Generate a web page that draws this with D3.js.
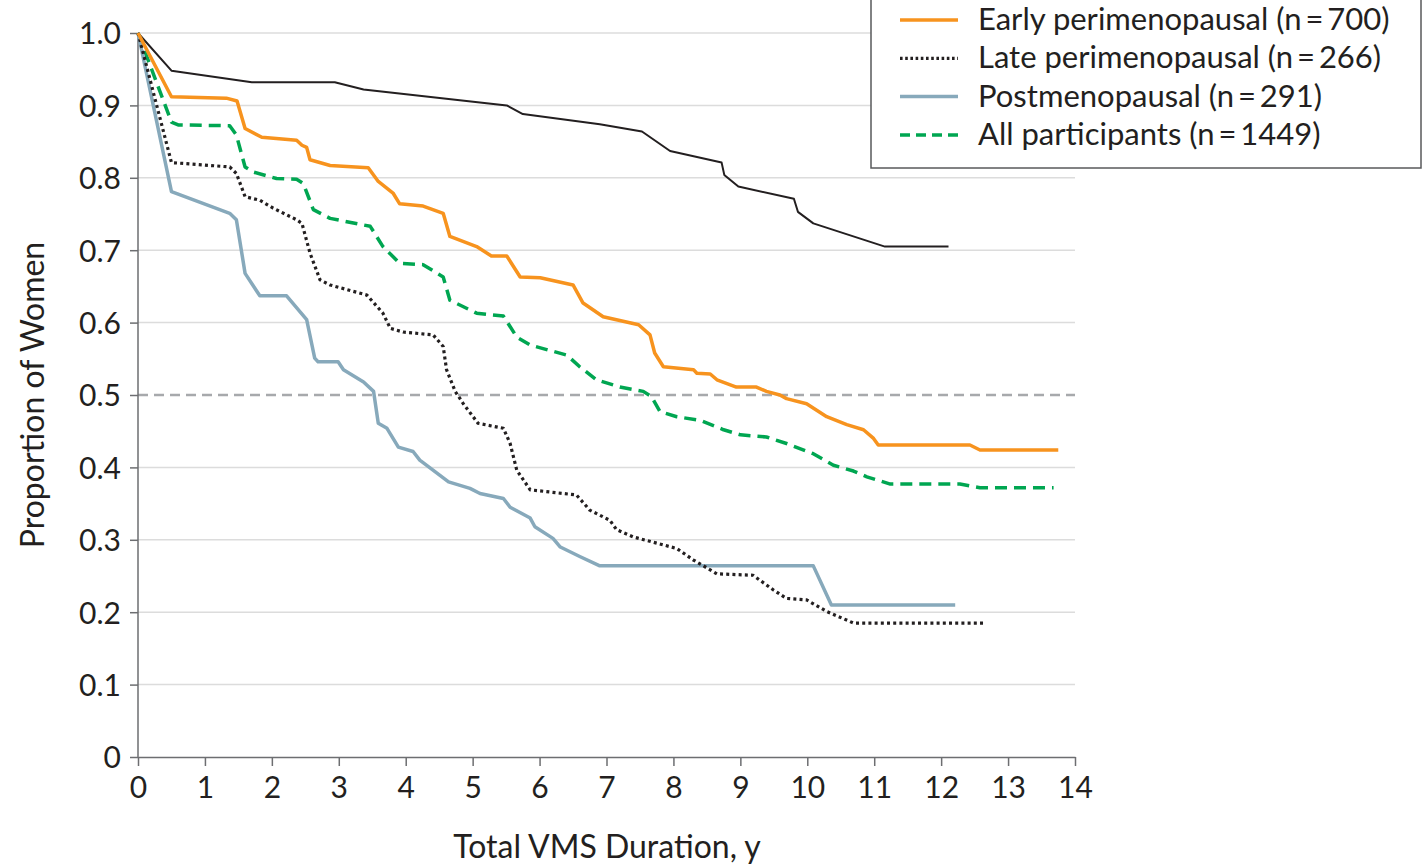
<!doctype html>
<html>
  <head>
    <script src="https://cdnjs.cloudflare.com/ajax/libs/d3/7.8.5/d3.min.js"></script>
    <style>
      body { margin: 0; background: #fff; }
      text { font-family: Lato, "Open Sans", sans-serif; fill: #231f20; }
      .grid line { stroke: #dcdcdc; stroke-width: 1.5; }
      .axis path, .axis line { stroke: #6d6e71; stroke-width: 1.5; }
    </style>
  </head>
  <body>
    <div id="chart"></div>
    <script>
      var xTicks = [0,1,2,3,4,5,6,7,8,9,10,11,12,13,14];
      var yTicks = [0,0.1,0.2,0.3,0.4,0.5,0.6,0.7,0.8,0.9,1.0];

      // [years, proportion]
      var premenopausal = [[0,1],[0.5,0.948],[1.7,0.932],[2.94,0.932],[3.37,0.922],[5.51,0.9],[5.75,0.888],
        [6.9,0.874],[7.53,0.864],[7.95,0.837],[8.72,0.821],[8.76,0.804],[8.97,0.788],[9.8,0.771],[9.86,0.753],
        [10.09,0.737],[11.16,0.705],[12.11,0.705]];
      var earlyPeri = [[0,1],[0.5,0.912],[1.32,0.91],[1.48,0.906],[1.6,0.868],[1.85,0.856],[2.37,0.852],[2.45,0.845],
        [2.52,0.842],[2.57,0.825],[2.87,0.817],[3.44,0.814],[3.59,0.795],[3.81,0.779],[3.91,0.764],[4.26,0.761],
        [4.56,0.751],[4.66,0.719],[5.06,0.705],[5.28,0.692],[5.51,0.692],[5.71,0.663],[6.01,0.662],[6.5,0.652],
        [6.65,0.627],[6.95,0.608],[7.48,0.597],[7.65,0.583],[7.72,0.558],[7.85,0.539],[8.3,0.535],[8.35,0.53],
        [8.55,0.529],[8.65,0.521],[8.94,0.511],[9.24,0.511],[9.39,0.505],[9.59,0.5],[9.69,0.495],[9.99,0.488],
        [10.29,0.47],[10.59,0.459],[10.84,0.452],[10.99,0.44],[11.06,0.431],[12.43,0.431],[12.58,0.424],[13.75,0.424]];
      var latePeri = [[0,1],[0.5,0.821],[1.37,0.815],[1.47,0.806],[1.6,0.774],[1.82,0.769],[2.02,0.758],[2.37,0.742],
        [2.45,0.737],[2.57,0.696],[2.72,0.659],[2.87,0.652],[3.42,0.638],[3.66,0.613],[3.77,0.592],[3.96,0.587],
        [4.41,0.583],[4.56,0.567],[4.61,0.535],[4.74,0.505],[4.86,0.488],[5.08,0.461],[5.46,0.454],[5.56,0.433],
        [5.66,0.396],[5.86,0.369],[6.55,0.362],[6.75,0.341],[7.05,0.327],[7.15,0.314],[7.4,0.304],[8.05,0.288],
        [8.3,0.272],[8.65,0.253],[9.19,0.251],[9.49,0.231],[9.69,0.219],[9.99,0.217],[10.29,0.201],[10.69,0.185],
        [12.63,0.185]];
      var postmeno = [[0,1],[0.5,0.781],[1.37,0.751],[1.47,0.742],[1.6,0.668],[1.82,0.637],[2.22,0.637],[2.52,0.604],
        [2.64,0.551],[2.69,0.546],[2.99,0.546],[3.07,0.535],[3.37,0.518],[3.52,0.505],[3.59,0.461],[3.72,0.454],
        [3.89,0.428],[4.11,0.422],[4.21,0.41],[4.64,0.38],[4.96,0.371],[5.11,0.364],[5.46,0.357],[5.56,0.345],
        [5.86,0.33],[5.93,0.318],[6.2,0.302],[6.31,0.29],[6.6,0.277],[6.9,0.264],[10.09,0.264],[10.36,0.21],[12.21,0.21]];
      var allParticipants = [[0,1],[0.5,0.877],[0.6,0.873],[1.37,0.872],[1.47,0.859],[1.6,0.815],[1.72,0.808],
        [2.07,0.799],[2.37,0.798],[2.47,0.792],[2.62,0.756],[2.87,0.744],[3.47,0.733],[3.66,0.705],[3.91,0.682],
        [4.26,0.68],[4.56,0.663],[4.66,0.631],[5.06,0.613],[5.46,0.609],[5.66,0.58],[5.86,0.569],[6.41,0.555],
        [6.6,0.539],[6.85,0.521],[7.2,0.511],[7.55,0.505],[7.67,0.498],[7.8,0.477],[8.05,0.47],[8.4,0.465],
        [8.75,0.452],[9.0,0.445],[9.39,0.442],[9.69,0.433],[10.09,0.419],[10.39,0.403],[10.69,0.395],[10.89,0.387],
        [11.24,0.377],[12.28,0.377],[12.58,0.372],[13.68,0.372]];

      var seriesNames = ["Premenopausal", "Early perimenopausal (n\u2009=\u2009700)", "Late perimenopausal (n\u2009=\u2009266)",
        "Postmenopausal (n\u2009=\u2009291)", "All participants (n\u2009=\u20091449)"];

      var series = [
        {name: seriesNames[0], values: premenopausal, color: "#231f20", width: 2, dash: null},
        {name: seriesNames[4], values: allParticipants, color: "#00a651", width: 3.5, dash: "12,7"},
        {name: seriesNames[3], values: postmeno, color: "#87a9bb", width: 3.5, dash: null},
        {name: seriesNames[2], values: latePeri, color: "#231f20", width: 3.2, dash: "3,3.2"},
        {name: seriesNames[1], values: earlyPeri, color: "#f7931e", width: 3.5, dash: null}
      ];
      var legendOrder = [seriesNames[1], seriesNames[2], seriesNames[3], seriesNames[4]];

      var W = 1423, H = 865;
      var margin = {left: 138, right: 348, top: 33, bottom: 108};

      var svg = d3.select("#chart").append("svg")
          .attr("width", W)
          .attr("height", H);

      var x = d3.scaleLinear().domain([0, 14]).range([margin.left, W - margin.right]);
      var y = d3.scaleLinear().domain([0, 1]).range([H - margin.bottom, margin.top]);

      // gridlines
      svg.append("g").attr("class", "grid")
        .selectAll("line")
        .data(yTicks.filter(d => d > 0 && d !== 0.5))
        .enter().append("line")
          .attr("x1", x(0)).attr("x2", x(14))
          .attr("y1", d => y(d)).attr("y2", d => y(d));

      svg.append("line")
          .attr("x1", x(0)).attr("x2", x(14))
          .attr("y1", y(0.5)).attr("y2", y(0.5))
          .attr("stroke", "#a7a9ac").attr("stroke-width", 2.5)
          .attr("stroke-dasharray", "10,6");

      // axes
      var xAxis = svg.append("g").attr("class", "axis")
          .attr("transform", "translate(0," + y(0) + ")")
          .call(d3.axisBottom(x).tickValues(xTicks).tickSize(9).tickSizeOuter(0).tickFormat(d3.format("d")));
      xAxis.selectAll("text").attr("font-size", 30).attr("dy", "0.95em");

      var yAxis = svg.append("g").attr("class", "axis")
          .attr("transform", "translate(" + x(0) + ",0)")
          .call(d3.axisLeft(y).tickValues(yTicks).tickSize(8).tickSizeOuter(0)
            .tickFormat(d => d === 0 ? "0" : d3.format(".1f")(d)));
      yAxis.selectAll("text").attr("font-size", 30).attr("x", -17).attr("dy", "0.36em");
      yAxis.selectAll("path.domain").attr("d", "M0," + y(0) + "V" + y(1));

      // lines
      var line = d3.line().x(d => x(d[0])).y(d => y(d[1]));
      svg.append("g").selectAll("path.series")
        .data(series)
        .enter().append("path")
          .attr("class", "series")
          .attr("d", d => line(d.values))
          .attr("fill", "none")
          .attr("stroke", d => d.color)
          .attr("stroke-width", d => d.width)
          .attr("stroke-dasharray", d => d.dash)
          .attr("stroke-linejoin", "round");

      // axis titles
      svg.append("text")
          .attr("x", 607).attr("y", 858)
          .attr("text-anchor", "middle")
          .attr("font-size", 32)
          .text("Total VMS Duration, y");

      svg.append("text")
          .attr("transform", "translate(44,395) rotate(-90)")
          .attr("text-anchor", "middle")
          .attr("font-size", 32)
          .text("Proportion of Women");

      // legend
      var lg = svg.append("g");
      lg.append("rect")
          .attr("x", 871).attr("y", -5)
          .attr("width", 550).attr("height", 173)
          .attr("fill", "#fff")
          .attr("stroke", "#58595b").attr("stroke-width", 1.5);

      var rows = lg.selectAll("g.row")
        .data(legendOrder.map(n => series.find(s => s.name === n)))
        .enter().append("g")
          .attr("class", "row")
          .attr("transform", (d, i) => "translate(900," + (20 + i * 38.3) + ")");
      rows.append("line")
          .attr("x1", 0).attr("x2", 58)
          .attr("stroke", d => d.color)
          .attr("stroke-width", d => d.width)
          .attr("stroke-dasharray", d => d.dash === "12,7" ? "10,6" : d.dash === null ? null : "2.6,2.6");
      rows.append("text")
          .attr("x", 78).attr("y", 10)
          .attr("font-size", 31)
          .text(d => d.name);
    </script>
  </body>
</html>
